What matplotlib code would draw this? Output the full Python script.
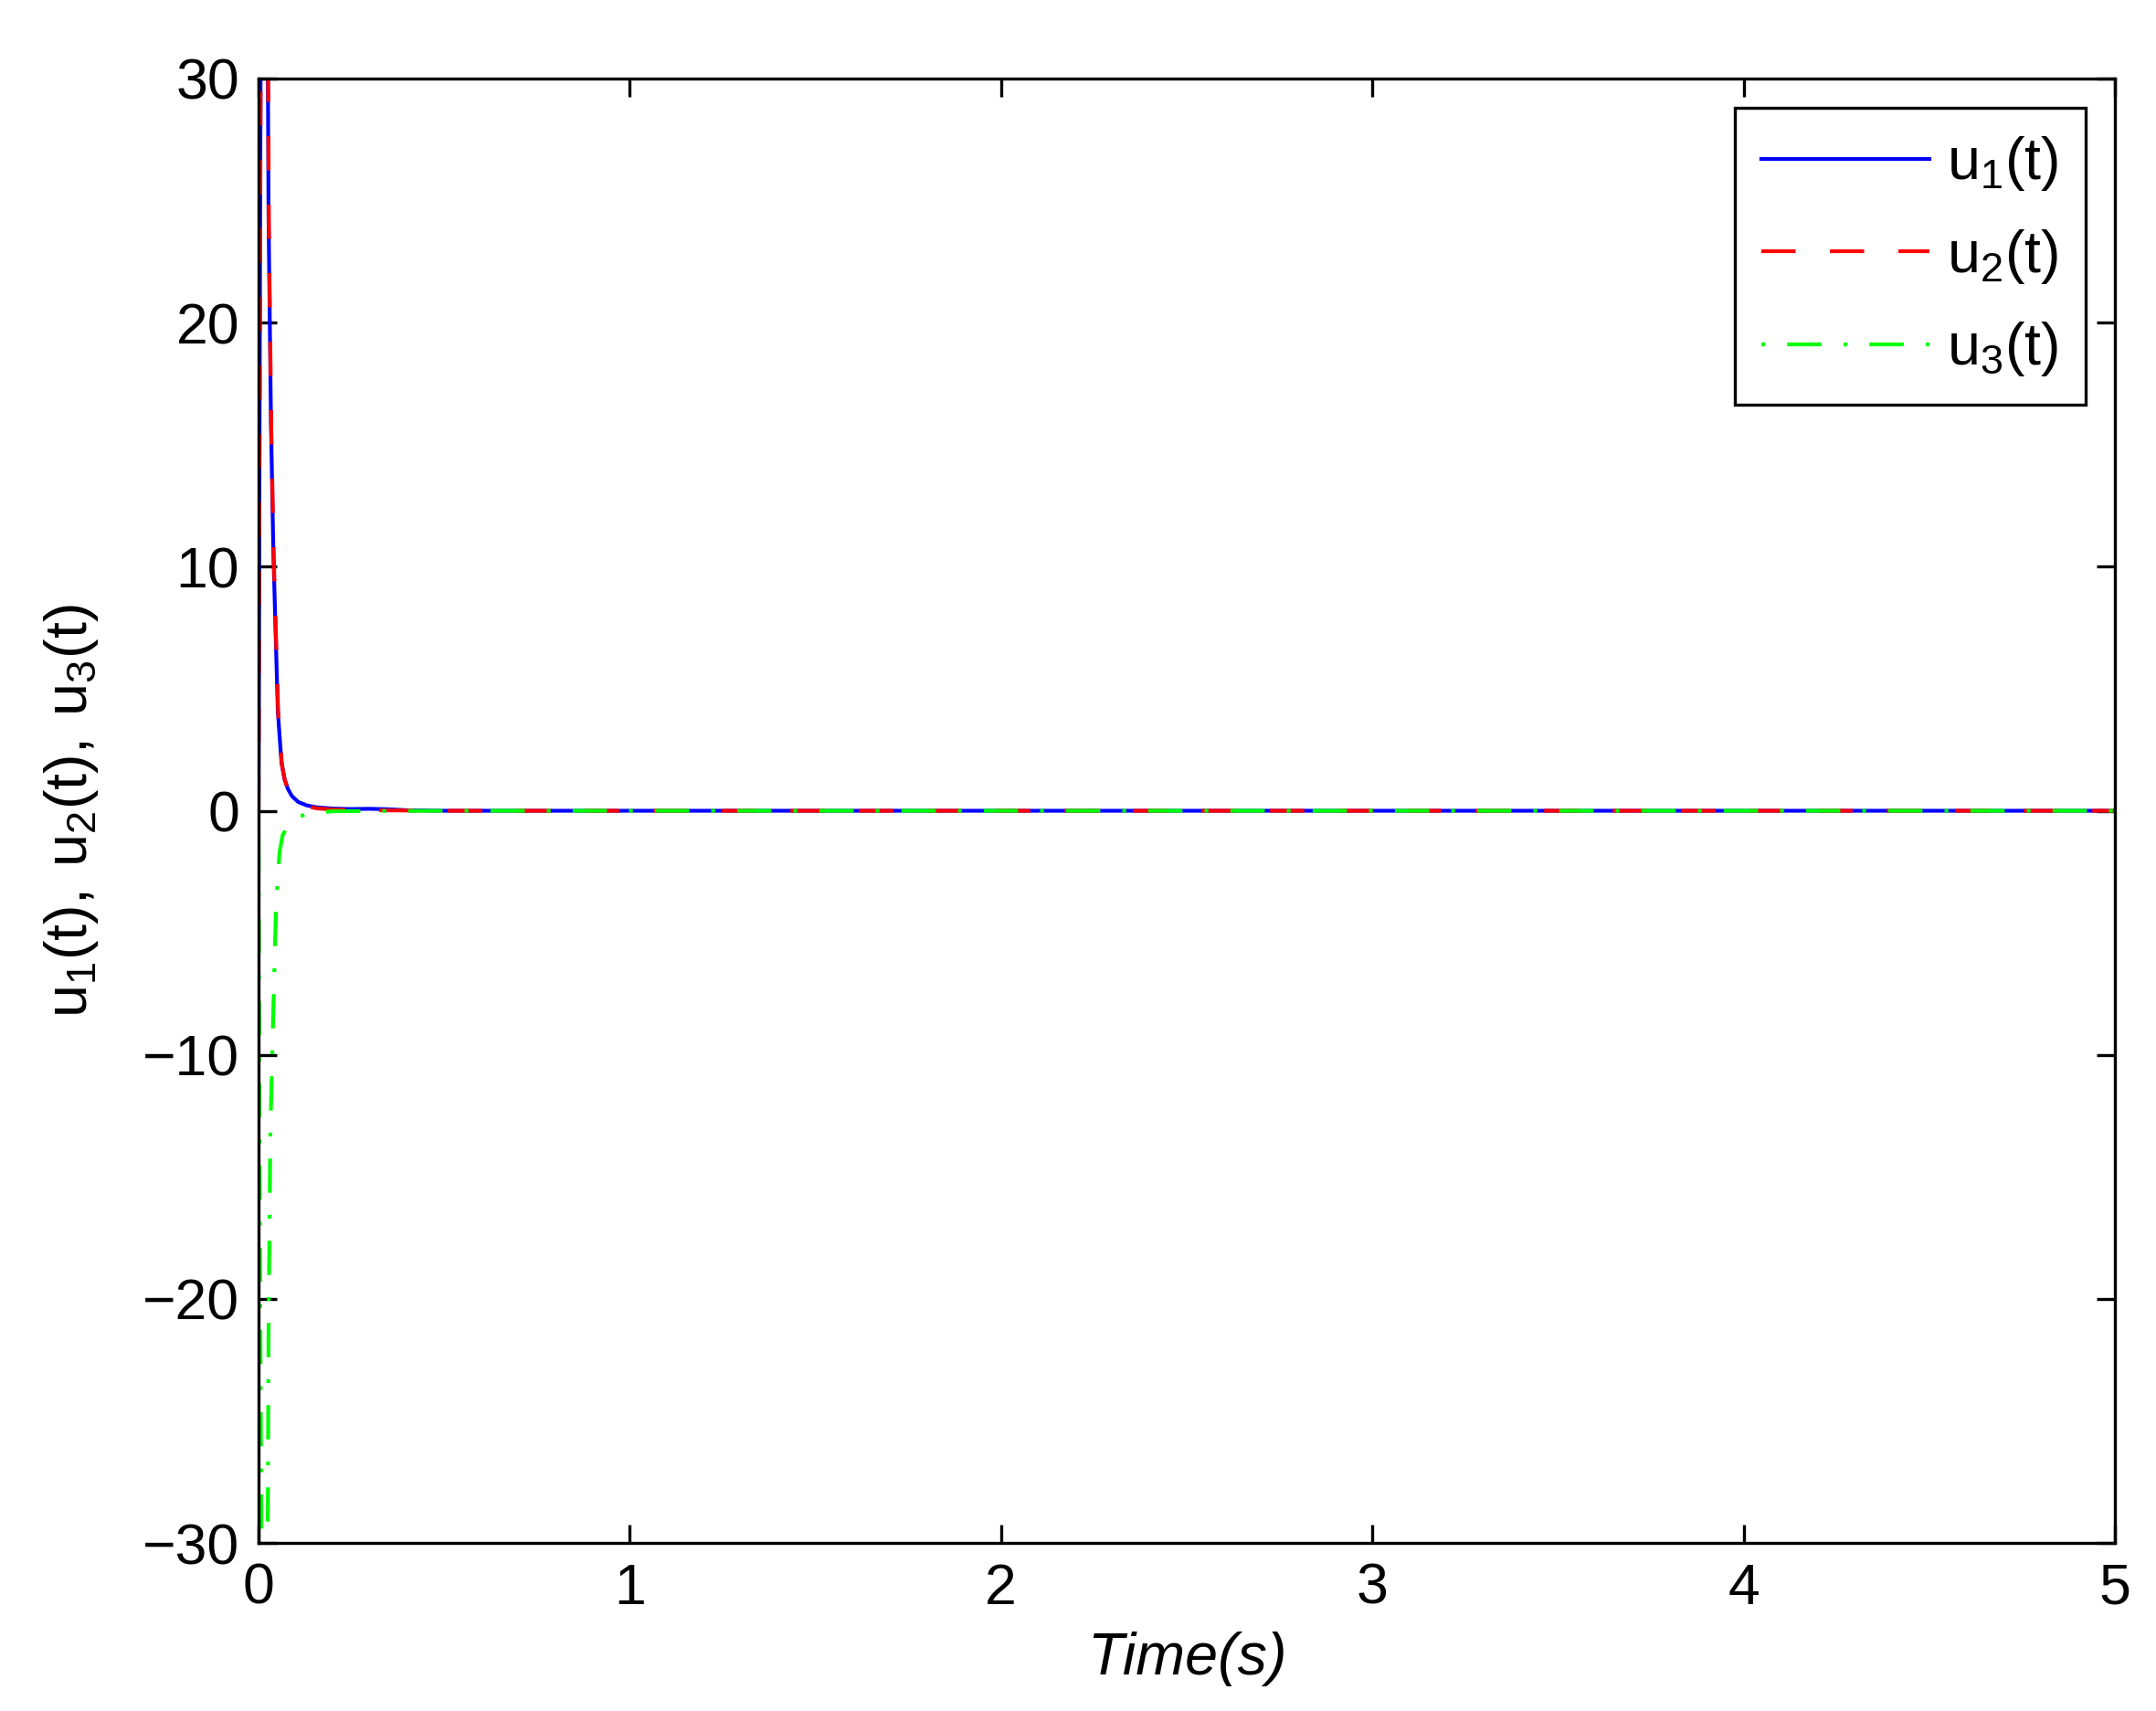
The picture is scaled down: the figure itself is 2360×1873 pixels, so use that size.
import matplotlib
matplotlib.use('Agg')
import matplotlib.pyplot as plt

plt.rcParams['font.family'] = 'Liberation Sans'
plt.rcParams['mathtext.fontset'] = 'custom'
plt.rcParams['mathtext.rm'] = 'Liberation Sans'
plt.rcParams['mathtext.it'] = 'Liberation Sans:italic'

# valores (transitorio + cauda em zero)
t1 = [0, 0.004, 0.008, 0.012, 0.018, 0.0254, 0.027, 0.0336, 0.040, 0.046, 0.052,
      0.058, 0.062, 0.070, 0.079, 0.090, 0.107, 0.130, 0.157, 0.20, 0.25, 0.30,
      0.35, 0.40, 0.50, 1, 2, 3, 4, 5]
u1 = [0, 22, 42, 50, 42, 30, 24.5, 15.9, 10.6, 7.35, 4.1,
      2.8, 1.97, 1.3, 0.9, 0.6, 0.36, 0.22, 0.14, 0.09, 0.07, 0.08,
      0.06, 0.02, 0, 0, 0, 0, 0, 0]

t2 = [0, 0.004, 0.008, 0.012, 0.018, 0.026, 0.028, 0.0345, 0.041, 0.047, 0.053,
      0.059, 0.063, 0.071, 0.080, 0.090, 0.107, 0.130, 0.157, 0.20, 0.30, 0.40,
      0.50, 1, 2, 3, 4, 5]
u2 = [0, 21, 41, 49, 42, 30, 24.0, 15.5, 10.4, 7.2, 4.0,
      2.7, 1.9, 1.25, 0.85, 0.55, 0.32, 0.18, 0.1, 0.05, 0.02, 0.01,
      0, 0, 0, 0, 0, 0]

t3 = [0, 0.004, 0.010, 0.016, 0.022, 0.025, 0.027, 0.032, 0.042, 0.0475, 0.0566,
      0.065, 0.081, 0.100, 0.135, 0.20, 0.50, 1, 2, 3, 4, 5]
u3 = [0, -18, -36, -39, -34, -29.3, -21.5, -13.1, -6.9, -3.8, -1.7,
      -1.0, -0.58, -0.3, -0.1, -0.02, 0, 0, 0, 0, 0, 0]

rotulos = [r'$\mathrm{u_1(t)}$', r'$\mathrm{u_2(t)}$', r'$\mathrm{u_3(t)}$']

fig = plt.figure(figsize=(2360 / 300, 1873 / 300), dpi=300)
ax = fig.add_axes([0.1199, 0.0982, 0.9809 - 0.1199, 0.9541 - 0.0982])

ax.plot(t1, u1, color='#0000ff', lw=1.0, label=rotulos[0])
ax.plot(t2, u2, color='#ff0000', lw=1.0, dashes=(9, 9), label=rotulos[1])
ax.plot(t3, u3, color='#00ff00', lw=1.0, dashes=(1, 5.8, 9, 5.8), label=rotulos[2])

ax.set_xlim(0, 5)
ax.set_ylim(-30, 30)
ax.set_xticks([0, 1, 2, 3, 4, 5])
ax.set_yticks([-30, -20, -10, 0, 10, 20, 30])
ax.set_yticklabels(['\u221230', '\u221220', '\u221210', '0', '10', '20', '30'])
ax.tick_params(direction='in', length=4.8, width=0.8, labelsize=15,
               top=True, right=True, pad=5)
for s in ax.spines.values():
    s.set_linewidth(0.8)

ax.set_xlabel('Time(s)', fontsize=15.5, fontstyle='italic', labelpad=4)
ax.set_ylabel(r'$\mathrm{u_1(t),\:u_2(t),\:u_3(t)}$', fontsize=15.5, labelpad=11)

leg = ax.legend(loc='upper right', fontsize=15.5, fancybox=False, framealpha=1,
                edgecolor='black', handlelength=2.85, borderaxespad=0.5,
                labelspacing=0.58, handletextpad=0.3, borderpad=0.45)
leg.get_frame().set_linewidth(0.8)

fig.savefig('out.png', dpi=300)
